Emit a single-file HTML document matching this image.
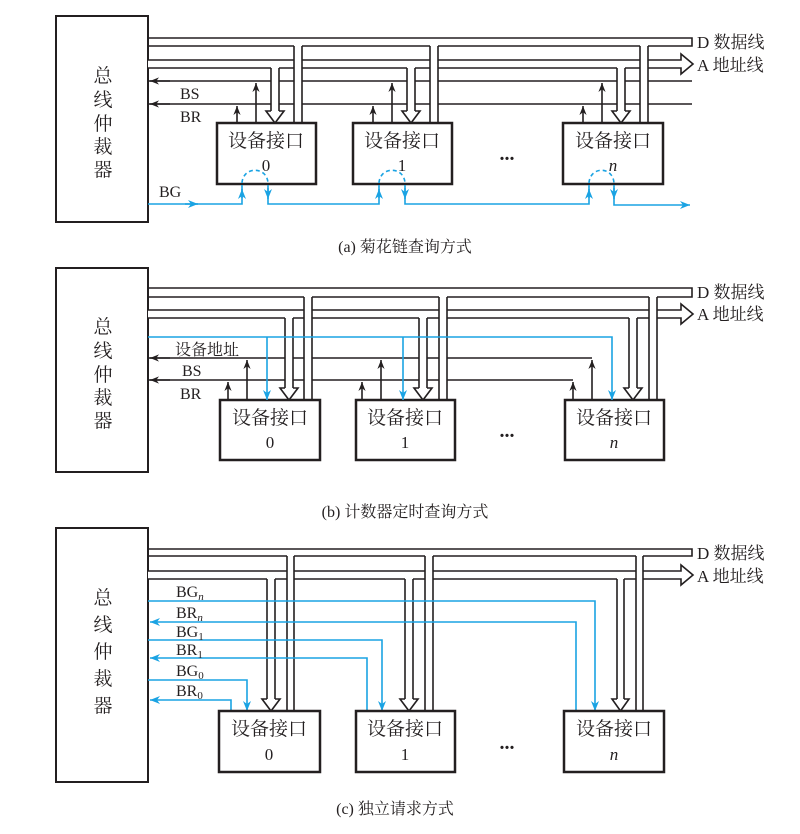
<!DOCTYPE html>
<html><head><meta charset="utf-8"><style>
html,body{margin:0;padding:0;background:#fff;}
svg{display:block;}
text{font-family:"Liberation Serif","Noto Serif CJK SC",serif;fill:#231f20;}
.cj{font-family:"Liberation Serif","Noto Serif CJK SC",serif;}
</style></head><body>
<svg width="800" height="834" viewBox="0 0 800 834" xmlns="http://www.w3.org/2000/svg">
<defs>
<marker id="ak" viewBox="0 0 10 10" refX="10" refY="5" markerWidth="9" markerHeight="9" markerUnits="userSpaceOnUse" orient="auto"><path d="M0,1 L10,5 L0,9 L3,5 z" fill="#231f20"/></marker>
<marker id="ab" viewBox="0 0 10 10" refX="10" refY="5" markerWidth="10" markerHeight="10" markerUnits="userSpaceOnUse" orient="auto"><path d="M0,1 L10,5 L0,9 L3,5 z" fill="#1aa3e3"/></marker>
</defs>
<g fill="none" stroke="#231f20" stroke-width="1.6">
<rect x="56" y="16" width="92" height="206" stroke-width="2"/>
<path d="M148,38 H692 V46 H148"/>
<path d="M148,60 H681 V54 L693,64 L681,74 V68 H148" fill="#fff"/>
<path d="M148,81 H692"/><path d="M170,81 H150" marker-end="url(#ak)"/>
<path d="M148,104 H692"/><path d="M170,104 H150" marker-end="url(#ak)"/>
<rect x="294" y="45" width="8" height="78" fill="#fff" stroke="none"/><path d="M294,46 V123 M302,46 V123"/>
<rect x="271" y="67" width="8" height="56" fill="#fff" stroke="none"/><path d="M271,68 V111 M279,68 V111"/>
<path d="M271,111 H266 L275,123 L284,111 H279" fill="#fff"/>
<path d="M256,123 V83" marker-end="url(#ak)"/><path d="M237,123 V106" marker-end="url(#ak)"/>
<rect x="217" y="123" width="99" height="61" fill="#fff" stroke-width="2.5"/>
<rect x="430" y="45" width="8" height="78" fill="#fff" stroke="none"/><path d="M430,46 V123 M438,46 V123"/>
<rect x="407" y="67" width="8" height="56" fill="#fff" stroke="none"/><path d="M407,68 V111 M415,68 V111"/>
<path d="M407,111 H402 L411,123 L420,111 H415" fill="#fff"/>
<path d="M392,123 V83" marker-end="url(#ak)"/><path d="M373,123 V106" marker-end="url(#ak)"/>
<rect x="353" y="123" width="99" height="61" fill="#fff" stroke-width="2.5"/>
<rect x="640" y="45" width="8" height="78" fill="#fff" stroke="none"/><path d="M640,46 V123 M648,46 V123"/>
<rect x="617" y="67" width="8" height="56" fill="#fff" stroke="none"/><path d="M617,68 V111 M625,68 V111"/>
<path d="M617,111 H612 L621,123 L630,111 H625" fill="#fff"/>
<path d="M602,123 V83" marker-end="url(#ak)"/><path d="M583,123 V106" marker-end="url(#ak)"/>
<rect x="563" y="123" width="100" height="61" fill="#fff" stroke-width="2.5"/>

<rect x="56" y="268" width="92" height="204" stroke-width="2"/>
<path d="M148,288 H692 V297 H148"/>
<path d="M148,310 H681 V304 L693,314 L681,324 V318 H148" fill="#fff"/>
<path d="M148,358 H592"/><path d="M170,358 H150" marker-end="url(#ak)"/>
<path d="M148,380 H573"/><path d="M170,380 H150" marker-end="url(#ak)"/>
<rect x="304" y="296" width="8" height="104" fill="#fff" stroke="none"/><path d="M304,297 V400 M312,297 V400"/>
<rect x="285" y="317" width="8" height="83" fill="#fff" stroke="none"/><path d="M285,318 V388 M293,318 V388"/>
<path d="M285,388 H280 L289,400 L298,388 H293" fill="#fff"/>
<path d="M247,400 V360" marker-end="url(#ak)"/><path d="M228,400 V382" marker-end="url(#ak)"/>
<rect x="220" y="400" width="100" height="60" fill="#fff" stroke-width="2.5"/>
<rect x="439" y="296" width="8" height="104" fill="#fff" stroke="none"/><path d="M439,297 V400 M447,297 V400"/>
<rect x="419" y="317" width="8" height="83" fill="#fff" stroke="none"/><path d="M419,318 V388 M427,318 V388"/>
<path d="M419,388 H414 L423,400 L432,388 H427" fill="#fff"/>
<path d="M381,400 V360" marker-end="url(#ak)"/><path d="M362,400 V382" marker-end="url(#ak)"/>
<rect x="356" y="400" width="99" height="60" fill="#fff" stroke-width="2.5"/>
<rect x="649" y="296" width="8" height="104" fill="#fff" stroke="none"/><path d="M649,297 V400 M657,297 V400"/>
<rect x="629" y="317" width="8" height="83" fill="#fff" stroke="none"/><path d="M629,318 V388 M637,318 V388"/>
<path d="M629,388 H624 L633,400 L642,388 H637" fill="#fff"/>
<path d="M592,400 V360" marker-end="url(#ak)"/><path d="M573,400 V382" marker-end="url(#ak)"/>
<rect x="565" y="400" width="99" height="60" fill="#fff" stroke-width="2.5"/>

<rect x="56" y="528" width="92" height="254" stroke-width="2"/>
<path d="M148,549 H692 V556 H148"/>
<path d="M148,571 H681 V565 L693,575 L681,585 V579 H148" fill="#fff"/>
<rect x="287" y="555" width="7" height="156" fill="#fff" stroke="none"/><path d="M287,556 V711 M294,556 V711"/>
<rect x="267" y="578" width="8" height="133" fill="#fff" stroke="none"/><path d="M267,579 V699 M275,579 V699"/>
<path d="M267,699 H262 L271,711 L280,699 H275" fill="#fff"/>
<rect x="425" y="555" width="8" height="156" fill="#fff" stroke="none"/><path d="M425,556 V711 M433,556 V711"/>
<rect x="405" y="578" width="8" height="133" fill="#fff" stroke="none"/><path d="M405,579 V699 M413,579 V699"/>
<path d="M405,699 H400 L409,711 L418,699 H413" fill="#fff"/>
<rect x="636" y="555" width="7" height="156" fill="#fff" stroke="none"/><path d="M636,556 V711 M643,556 V711"/>
<rect x="617" y="578" width="7" height="133" fill="#fff" stroke="none"/><path d="M617,579 V699 M624,579 V699"/>
<path d="M617,699 H612 L620.5,711 L629,699 H624" fill="#fff"/>
</g>

<g fill="none" stroke="#1aa3e3" stroke-width="1.6">
<path d="M148,204 H242 V185"/><path d="M242,198 V189" marker-end="url(#ab)"/>
<path d="M185,204 H198" marker-end="url(#ab)"/>
<path d="M242,183 C243,166 267,166 268,183" stroke-dasharray="4 3"/>
<path d="M268,185 V204 H379 V185"/><path d="M268,188 V199" marker-end="url(#ab)"/>
<path d="M379,198 V189" marker-end="url(#ab)"/>
<path d="M379,183 C380,166 404,166 405,183" stroke-dasharray="4 3"/>
<path d="M405,185 V204 H589 V185"/><path d="M405,188 V199" marker-end="url(#ab)"/>
<path d="M589,198 V189" marker-end="url(#ab)"/>
<path d="M589,183 C590,166 613,166 614,183" stroke-dasharray="4 3"/>
<path d="M614,185 V205 H690" marker-end="url(#ab)"/><path d="M614,188 V199" marker-end="url(#ab)"/>
<path d="M148,337 H612 V400" marker-end="url(#ab)"/>
<path d="M267,337 V400" marker-end="url(#ab)"/>
<path d="M403,337 V400" marker-end="url(#ab)"/>
<path d="M148,601 H595 V711" marker-end="url(#ab)"/>
<path d="M576,711 V622 H150" marker-end="url(#ab)"/>
<path d="M148,640 H382 V711" marker-end="url(#ab)"/>
<path d="M367,711 V658 H150" marker-end="url(#ab)"/>
<path d="M148,680 H247 V711" marker-end="url(#ab)"/>
<path d="M231,711 V700 H150" marker-end="url(#ab)"/>
</g>
<g fill="#fff" stroke="#231f20" stroke-width="2.5">
<rect x="219" y="711" width="101" height="61"/>
<rect x="356" y="711" width="99" height="61"/>
<rect x="564" y="711" width="100" height="61"/>
</g>

<g font-size="19" text-anchor="middle">
<text x="103" y="82" class="cj">总</text><text x="103" y="106" class="cj">线</text><text x="103" y="130" class="cj">仲</text><text x="103" y="153" class="cj">裁</text><text x="103" y="176" class="cj">器</text>
<text x="103" y="333" class="cj">总</text><text x="103" y="357" class="cj">线</text><text x="103" y="381" class="cj">仲</text><text x="103" y="404" class="cj">裁</text><text x="103" y="427" class="cj">器</text>
<text x="103" y="604" class="cj">总</text><text x="103" y="631" class="cj">线</text><text x="103" y="658" class="cj">仲</text><text x="103" y="685" class="cj">裁</text><text x="103" y="712" class="cj">器</text>
<text x="266" y="147" class="cj">设备接口</text><text x="402" y="147" class="cj">设备接口</text><text x="613" y="147" class="cj">设备接口</text>
<text x="270" y="424" class="cj">设备接口</text><text x="405" y="424" class="cj">设备接口</text><text x="614" y="424" class="cj">设备接口</text>
<text x="269" y="735" class="cj">设备接口</text><text x="405" y="735" class="cj">设备接口</text><text x="614" y="735" class="cj">设备接口</text>
</g>
<g font-size="17" text-anchor="middle">
<text x="266" y="171">0</text><text x="402" y="171">1</text><text x="613" y="171" font-style="italic">n</text>
<text x="270" y="448">0</text><text x="405" y="448">1</text><text x="614" y="448" font-style="italic">n</text>
<text x="269" y="760">0</text><text x="405" y="760">1</text><text x="614" y="760" font-style="italic">n</text>
</g>
<g font-size="20" text-anchor="middle" font-weight="bold">
<text x="507" y="160">...</text><text x="507" y="437">...</text><text x="507" y="749">...</text>
</g>
<g font-size="17">
<text x="697" y="48">D <tspan class="cj">数据线</tspan></text>
<text x="697" y="71">A <tspan class="cj">地址线</tspan></text>
<text x="697" y="298">D <tspan class="cj">数据线</tspan></text>
<text x="697" y="320">A <tspan class="cj">地址线</tspan></text>
<text x="697" y="559">D <tspan class="cj">数据线</tspan></text>
<text x="697" y="582">A <tspan class="cj">地址线</tspan></text>
</g>
<g font-size="16">
<text x="180" y="99">BS</text><text x="180" y="122">BR</text>
<text x="159" y="197">BG</text>
<text x="175" y="355" class="cj">设备地址</text>
<text x="182" y="376">BS</text><text x="180" y="399">BR</text>
<text x="176" y="597">BG<tspan font-size="11" font-style="italic" dy="3">n</tspan></text>
<text x="176" y="618">BR<tspan font-size="11" font-style="italic" dy="3">n</tspan></text>
<text x="176" y="637">BG<tspan font-size="11" dy="3">1</tspan></text>
<text x="176" y="655">BR<tspan font-size="11" dy="3">1</tspan></text>
<text x="176" y="676">BG<tspan font-size="11" dy="3">0</tspan></text>
<text x="176" y="696">BR<tspan font-size="11" dy="3">0</tspan></text>
</g>
<g font-size="16" text-anchor="middle">
<text x="405" y="252">(a) <tspan class="cj">菊花链查询方式</tspan></text>
<text x="405" y="517">(b) <tspan class="cj">计数器定时查询方式</tspan></text>
<text x="395" y="814">(c) <tspan class="cj">独立请求方式</tspan></text>
</g>
</svg>
</body></html>
